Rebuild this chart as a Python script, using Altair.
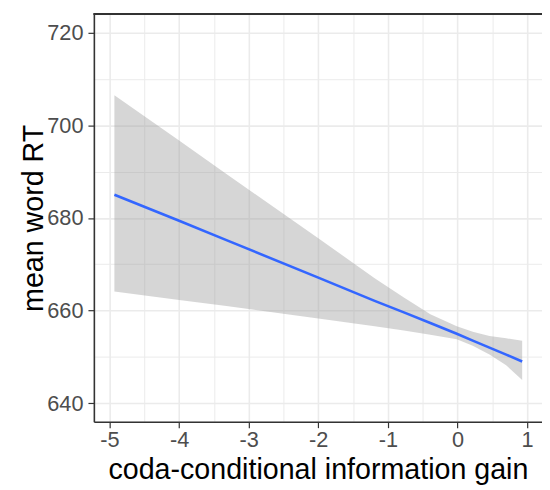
import altair as alt
import pandas as pd

# values
xs = [-4.93, -4.0, -3.32, -2.0, -1.19, -0.77, -0.39, -0.01, 0.22, 0.46, 0.70, 0.93]
upper = [706.5, 696.7, 689.5, 675.6, 667.0, 662.8, 659.2, 656.6, 655.4, 654.5, 654.0, 653.5]
lower = [664.1, 662.3, 661.0, 658.3, 656.6, 655.7, 654.8, 653.8, 652.4, 650.5, 648.2, 645.0]
fit = [685.0, 679.4, 675.2, 667.1, 662.1, 659.6, 657.3, 655.0, 653.5, 652.0, 650.5, 649.0]

x_ticks = [-5, -4.5, -4, -3.5, -3, -2.5, -2, -1.5, -1, -0.5, 0, 0.5, 1]
y_ticks = [640, 650, 660, 670, 680, 690, 700, 710, 720]

x_title = "coda-conditional information gain"
y_title = "mean word RT"

df = pd.DataFrame({"x": xs, "upper": upper, "lower": lower, "fit": fit})

W, H = 454, 413
FONT = "Liberation Sans"
GRID = "#EBEBEB"
DARK = "#333333"

x_axis = alt.Axis(
    values=x_ticks,
    labelExpr="datum.value % 1 == 0 ? '' + datum.value : ''",
    labelOverlap=False,
    grid=True,
    gridColor=GRID,
    gridWidth={"condition": {"test": "datum.value % 1 != 0", "value": 1}, "value": 1.6},
    tickOpacity={"condition": {"test": "datum.value % 1 != 0", "value": 0}, "value": 1},
    tickColor=DARK,
    tickSize=6,
    tickWidth=1.2,
    domain=True,
    domainColor=DARK,
    domainWidth=1.6,
    labelFont=FONT,
    labelFontSize=22,
    labelColor="#4D4D4D",
    labelPadding=2,
    title=x_title,
    titleFont=FONT,
    titleFontSize=29,
    titleFontWeight="normal",
    titleColor="black",
    titleX=W / 2,
    titleY=58,
    titleAlign="center",
    titleBaseline="alphabetic",
)

y_axis = alt.Axis(
    values=y_ticks,
    labelExpr="datum.value % 20 == 0 ? '' + datum.value : ''",
    labelOverlap=False,
    grid=True,
    gridColor=GRID,
    gridWidth={"condition": {"test": "datum.value % 20 != 0", "value": 1}, "value": 1.6},
    tickOpacity={"condition": {"test": "datum.value % 20 != 0", "value": 0}, "value": 1},
    tickColor=DARK,
    tickSize=6,
    tickWidth=1.2,
    domain=True,
    domainColor=DARK,
    domainWidth=1.6,
    labelFont=FONT,
    labelFontSize=22,
    labelColor="#4D4D4D",
    labelPadding=5,
    title=y_title,
    titleFont=FONT,
    titleFontSize=29,
    titleFontWeight="normal",
    titleColor="black",
    titleAngle=270,
    titleX=-52,
    titleY=H / 2,
    titleAlign="center",
    titleBaseline="alphabetic",
)

xscale = alt.Scale(domain=[-5.225, 1.215], nice=False, zero=False)
yscale = alt.Scale(domain=[636, 724], nice=False, zero=False)

band = alt.Chart(df).mark_area(color="#999999", opacity=0.4).encode(
    x=alt.X("x:Q", scale=xscale, axis=x_axis),
    y=alt.Y("lower:Q", scale=yscale, axis=y_axis),
    y2="upper:Q",
)

line = alt.Chart(df).mark_line(color="#3366FF", strokeWidth=2.6).encode(
    x=alt.X("x:Q", scale=xscale, axis=x_axis),
    y=alt.Y("fit:Q", scale=yscale, axis=y_axis),
)

top_border = alt.Chart(df).mark_rule(color=DARK, strokeWidth=1.6).encode(
    x=alt.value(0), x2=alt.value(W + 2), y=alt.value(0)
)

chart = (
    alt.layer(band, line, top_border)
    .properties(
        width=W,
        height=H,
        autosize=alt.AutoSizeParams(type="none"),
        padding={"left": 87, "top": 3, "right": 0, "bottom": 66},
    )
    .configure_view(stroke=None)
    .configure(background="white")
)

chart.save("out.html", embed_options={"renderer": "svg", "actions": False})
